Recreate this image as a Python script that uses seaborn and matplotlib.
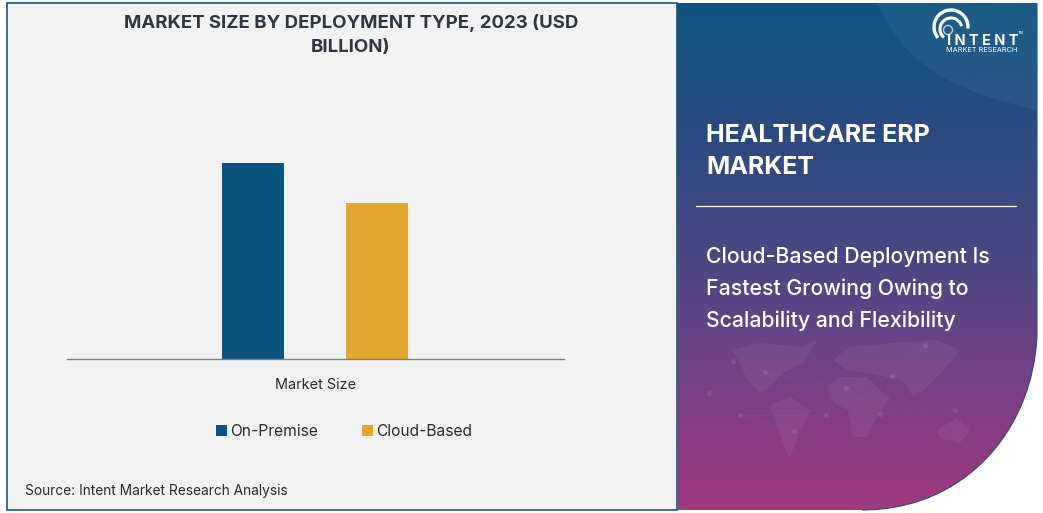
#!/usr/bin/env python3
"""Healthcare ERP market size by deployment type, 2023."""

import numpy as np
import pandas as pd
import matplotlib
matplotlib.use("Agg")
import matplotlib.pyplot as plt
import seaborn as sns
from matplotlib.patches import Arc, Circle, PathPatch, Polygon, Rectangle
from matplotlib.path import Path

category = ["Market Size"]
deployment = ["On-Premise", "Cloud-Based"]
market_size = [9.8, 7.8]
bar_colors = ["#0b5480", "#e3a72f"]

FIG_W, FIG_H = 1043, 513
NAVY = "#1b5478"
TEXT = "#2b2b2b"


def make_axes_px(fig, x0, y0, x1, y1, **kw):
    # pixel box, y measured from the top of the image
    return fig.add_axes([x0 / FIG_W, 1 - y1 / FIG_H, (x1 - x0) / FIG_W, (y1 - y0) / FIG_H], **kw)


def draw_background(bg):
    bg.add_patch(Rectangle((7, 3), 670, 507, fc="#f2f2f2", ec=NAVY, lw=1.2, zorder=1))

    # right panel outline with the rounded lower corner
    verts = [(677, 3), (1037, 3), (1037, 335), (1033, 430), (965, 510), (862, 510), (677, 510), (677, 3)]
    codes = [Path.MOVETO, Path.LINETO, Path.LINETO, Path.CURVE4, Path.CURVE4, Path.CURVE4, Path.LINETO, Path.CLOSEPOLY]
    panel = PathPatch(Path(verts, codes), fc="none", ec="none", zorder=2)
    bg.add_patch(panel)

    stops_y = [3, 120, 250, 350, 430, 510]
    stops = np.array([[13, 86, 128], [40, 75, 128], [72, 72, 130], [107, 66, 133], [134, 60, 132], [160, 57, 128]]) / 255
    ys = np.arange(3, 511)
    grad = np.stack([np.interp(ys, stops_y, stops[:, i]) for i in range(3)], axis=1)[:, None, :]
    im = bg.imshow(grad, extent=(677, 1037, 510, 3), aspect="auto", zorder=1.5)
    im.set_clip_path(panel)

    # thin dark edge only along the right side and the curve
    edge = PathPatch(Path(verts[1:6], [Path.MOVETO, Path.LINETO, Path.CURVE4, Path.CURVE4, Path.CURVE4]),
                     fc="none", ec=NAVY, lw=0.8, zorder=2)
    bg.add_patch(edge)

    # lighter swoosh behind the logo
    v2 = [(877, 3), (905, 65), (950, 90), (1037, 110), (1037, 3), (877, 3)]
    c2 = [Path.MOVETO, Path.CURVE4, Path.CURVE4, Path.CURVE4, Path.LINETO, Path.CLOSEPOLY]
    bg.add_patch(PathPatch(Path(v2, c2), fc="white", ec="none", alpha=0.05, zorder=1.6))


def draw_map(bg):
    # faint continents, traced roughly
    land = [
        [(732, 350), (760, 343), (800, 347), (817, 340), (803, 363), (783, 373), (770, 387), (760, 393), (747, 380), (740, 363)],
        [(770, 405), (790, 397), (810, 410), (800, 433), (790, 457), (783, 443), (775, 420)],
        [(827, 387), (840, 377), (867, 377), (883, 393), (890, 397), (877, 417), (867, 437), (853, 437), (848, 410), (830, 400)],
        [(833, 360), (850, 347), (893, 343), (937, 340), (960, 350), (947, 367), (927, 387), (913, 397), (903, 380), (887, 377), (867, 373), (847, 370)],
        [(937, 430), (957, 418), (970, 430), (960, 443), (940, 438)],
    ]
    for poly in land:
        bg.add_patch(Polygon(poly, closed=True, fc="white", ec="none", alpha=0.06, zorder=1.7))

    nodes = [(709, 393), (733, 361), (765, 372), (740, 415), (826, 415), (794, 431), (846, 388), (892, 376), (955, 410), (880, 414), (925, 345)]
    links = [(0, 1), (1, 2), (2, 4), (3, 4), (4, 5), (4, 6), (6, 7), (7, 10), (7, 9), (9, 8), (6, 9), (2, 6), (5, 3), (7, 8)]
    for a, b in links:
        bg.plot([nodes[a][0], nodes[b][0]], [nodes[a][1], nodes[b][1]], color="white", lw=0.4, alpha=0.06, zorder=1.75)
    bg.scatter(*zip(*nodes), s=14, color="white", alpha=0.1, linewidths=0, zorder=1.8)


def draw_logo(bg):
    # y is inverted here, so 270 is the top of the arc
    bg.add_patch(Arc((951, 27), 34, 34, theta1=140, theta2=365, color="white", lw=2.4, zorder=3))
    bg.add_patch(Arc((951, 29), 22, 22, theta1=130, theta2=345, color="white", lw=2.2, zorder=3))
    bg.add_patch(Circle((948, 30), 4.5, fc="none", ec="white", lw=1.0, alpha=0.7, zorder=3))
    bg.text(947, 41, "I N T E N T", color="white", fontsize=10.4, fontweight="bold", va="center", ha="left", zorder=4)
    bg.text(946, 50, "MARKET RESEARCH", color="white", fontsize=5.3, va="center", ha="left", zorder=4)
    bg.text(1018, 33, "TM", color="white", fontsize=2.8, va="center", ha="left", zorder=4)


def main():
    sns.set_theme(style="white")
    plt.rcParams["font.family"] = ["Inter", "DejaVu Sans"]

    df = pd.DataFrame({
        "category": category * len(deployment),
        "deployment": deployment,
        "market_size": market_size,
    })

    fig = plt.figure(figsize=(FIG_W / 100, FIG_H / 100), dpi=100, facecolor="white")

    bg = make_axes_px(fig, 0, 0, FIG_W, FIG_H, zorder=0)
    bg.axis("off")
    draw_background(bg)
    draw_map(bg)
    draw_logo(bg)
    bg.set_xlim(0, FIG_W)
    bg.set_ylim(FIG_H, 0)

    # chart
    ax = make_axes_px(fig, 67, 100, 563.5, 359, zorder=1)
    ax.patch.set_alpha(0)
    sns.barplot(
        data=df, x="category", y="market_size", hue="deployment",
        hue_order=deployment, palette=bar_colors, width=0.5, gap=0.5,
        saturation=1, linewidth=0, ax=ax,
    )
    ax.set_xlim(-0.5, 0.5)
    ax.set_ylim(0, 12.95)
    ax.set_xlabel("")
    ax.set_ylabel("")
    ax.set_yticks([])
    sns.despine(ax=ax, left=True)
    ax.spines["bottom"].set_color("#7f7f7f")
    ax.spines["bottom"].set_linewidth(1.0)
    ax.tick_params(axis="x", length=0, pad=14, labelsize=10.4, labelcolor=TEXT)

    ax.legend(
        loc="center", bbox_to_anchor=(344 / FIG_W, 1 - 431 / FIG_H), bbox_transform=fig.transFigure,
        ncol=2, frameon=False, fontsize=11.2, handlelength=0.72, handleheight=0.72,
        handletextpad=0.2, columnspacing=2.85, labelcolor=TEXT,
    )

    # left panel text
    bg.text(351, 35, "MARKET SIZE BY DEPLOYMENT TYPE, 2023 (USD\nBILLION)", ha="center", va="center",
            fontsize=13.4, fontweight="bold", color="#2f3640", linespacing=1.55, zorder=5)
    bg.text(25, 491.5, "Source: Intent Market Research Analysis", ha="left", va="center",
            fontsize=9.9, color=TEXT, zorder=5)

    # right panel text
    bg.text(706, 152, "HEALTHCARE ERP\nMARKET", ha="left", va="center", fontsize=18.0,
            fontweight="bold", color="white", linespacing=1.5, zorder=5)
    bg.plot([696, 1015.5], [206, 206], color="white", lw=0.9, zorder=5)
    bg.text(706, 289, "Cloud-Based Deployment Is\nFastest Growing Owing to\nScalability and Flexibility",
            ha="left", va="center", fontsize=15.3, fontweight="medium", color="white", linespacing=1.7, zorder=5)

    fig.savefig("out.png", dpi=100, facecolor="white")
    plt.close(fig)


if __name__ == "__main__":
    main()
